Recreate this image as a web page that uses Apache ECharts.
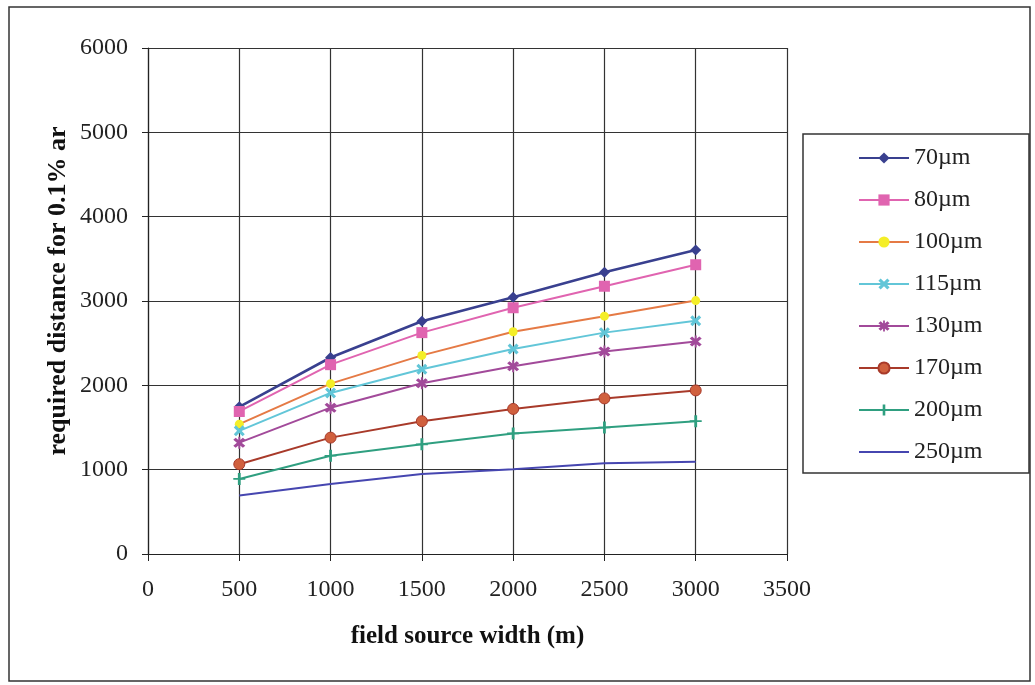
<!DOCTYPE html>
<html><head><meta charset="utf-8">
<script src="https://cdn.jsdelivr.net/npm/echarts@6/dist/echarts.min.js"></script>
<style>html,body{margin:0;padding:0;background:#fff}#c{width:1035px;height:685px}</style>
</head><body><div id="c"></div>
<script>
const widths = [500, 1000, 1500, 2000, 2500, 3000];
const seriesNames = ['70µm','80µm','100µm','115µm','130µm','170µm','200µm','250µm'];
const s70  = [1745, 2330, 2760, 3045, 3340, 3605];
const s80  = [1690, 2245, 2625, 2920, 3175, 3430];
const s100 = [1540, 2020, 2355, 2635, 2820, 3005];
const s115 = [1460, 1910, 2190, 2430, 2625, 2765];
const s130 = [1320, 1735, 2025, 2225, 2400, 2520];
const s170 = [1065, 1380, 1575, 1720, 1845, 1940];
const s200 = [890, 1165, 1300, 1430, 1500, 1575];
const s250 = [695, 830, 950, 1005, 1075, 1095];
const xTicks = [0, 500, 1000, 1500, 2000, 2500, 3000, 3500];
const yTicks = [0, 1000, 2000, 3000, 4000, 5000, 6000];
const xTitle = 'field source width (m)';
const yTitle = 'required distance for 0.1% ar';

const values = [s70, s80, s100, s115, s130, s170, s200, s250];
const lineColors = ['#39408f','#e064b0','#e57a45','#62c6d8','#a24a9a','#a83a2a','#2f9f80','#4646b0'];
const markColors = ['#39408f','#e064b0','#f4ee28','#62c6d8','#a24a9a','#d0603e','#2f9f80','#4646b0'];
const X = 'path://M2,0 L5,3 L8,0 L10,2 L7,5 L10,8 L8,10 L5,7 L2,10 L0,8 L3,5 L0,2 Z';
const STAR = 'path://M2,0 L5,3 L8,0 L10,2 L7,5 L10,8 L8,10 L5,7 L2,10 L0,8 L3,5 L0,2 Z M4.2,-1 L5.8,-1 L5.8,11 L4.2,11 Z';
const PLUS = 'path://M4.3,0 L5.7,0 L5.7,10 L4.3,10 Z M2,4.3 L8,4.3 L8,5.7 L2,5.7 Z';
const symbols = ['diamond','rect','circle',X,STAR,'circle',PLUS,'none'];
const sizes = [11, 11, 9, 11, 12, 11, 12, 0];

const serif = '"Liberation Serif","DejaVu Serif",serif';
const chart = echarts.init(document.getElementById('c'), null, {renderer:'canvas'});
chart.setOption({
  animation:false,
  backgroundColor:'#fff',
  grid:{left:148, right:248, top:48, bottom:131, containLabel:false},
  xAxis:{type:'value', min:0, max:3500, interval:500,
    name:xTitle, nameLocation:'middle', nameGap:70,
    nameTextStyle:{fontFamily:serif, fontWeight:'bold', fontSize:25, color:'#111'},
    axisLine:{show:true, lineStyle:{color:'#222', width:1.2}},
    axisTick:{show:true, inside:false, length:7, lineStyle:{color:'#222'}},
    axisLabel:{fontFamily:serif, fontSize:24, color:'#222', margin:24,
      formatter:v=>xTicks.includes(v)?String(v):''},
    splitLine:{show:true, lineStyle:{color:'#333', width:1.2}}},
  yAxis:{type:'value', min:0, max:6000, interval:1000,
    axisLine:{show:true, lineStyle:{color:'#222', width:1.2}},
    axisTick:{show:true, inside:false, length:6, lineStyle:{color:'#222'}},
    axisLabel:{fontFamily:serif, fontSize:24, color:'#222', margin:20,
      formatter:v=>yTicks.includes(v)?String(v):''},
    splitLine:{show:true, lineStyle:{color:'#333', width:1.2}}},
  legend:{orient:'vertical', left:853, top:141, itemWidth:50, itemHeight:14, itemGap:18,
    textStyle:{fontFamily:serif, fontSize:24, color:'#222'},
    data:seriesNames.map((n,i)=> i===7 ? {name:n, itemStyle:{opacity:0}} : n)},
  graphic:[
    {type:'rect', shape:{x:9, y:7, width:1021, height:674}, style:{fill:'none', stroke:'#333', lineWidth:1.5}, z:-1},
    {type:'rect', shape:{x:803, y:134, width:226, height:339}, style:{fill:'none', stroke:'#333', lineWidth:1.5}},
    {type:'text', x:58, y:291, rotation:Math.PI/2,
      style:{text:yTitle, font:'bold 26px "Liberation Serif", serif', fill:'#111', textAlign:'center', textVerticalAlign:'middle'}}
  ],
  series: seriesNames.map((n,i)=>({
    name:n, type:'line',
    data: widths.map((w,j)=>[w, values[i][j]]),
    symbol: symbols[i], symbolSize: sizes[i], showSymbol: symbols[i]!=='none',
    lineStyle:{color:lineColors[i], width: i===0?2.6:2},
    itemStyle:{color:markColors[i], borderColor: i===5?'#a83a2a':markColors[i], borderWidth: i===5?1:0},
    emphasis:{disabled:true}
  }))
});
</script></body></html>
